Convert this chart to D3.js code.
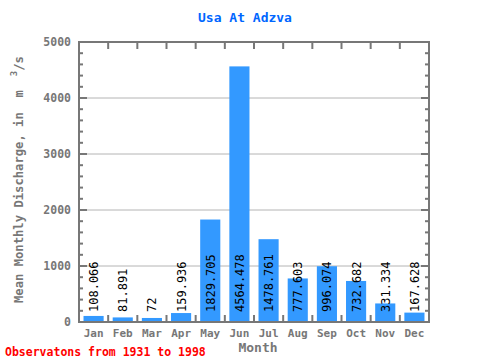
<!DOCTYPE html>
<html><head><meta charset="utf-8">
<script src="https://cdn.jsdelivr.net/npm/d3@7"></script>
<style>body{margin:0;background:#fff}svg{display:block}text{font-family:"DejaVu Sans Mono",monospace}</style>
</head><body>
<script>
const months = ["Jan","Feb","Mar","Apr","May","Jun","Jul","Aug","Sep","Oct","Nov","Dec"];
const values = [108.066,81.891,72,159.936,1829.705,4564.478,1478.761,777.603,996.074,732.682,331.334,167.628];
const valueLabels = ["108.066","81.891","72","159.936","1829.705","4564.478","1478.761","777.603","996.074","732.682","331.334","167.628"];
const yTicks = [0,1000,2000,3000,4000,5000];
const yMinor = d3.range(0,5001,200);
const title = "Usa At Adzva";
const note = "Observatons from 1931 to 1998";

const W=480,H=360, L=79,R=429,T=42,B=322;
const svg=d3.select("body").append("svg").attr("width",W).attr("height",H);
const x=d3.scaleBand().domain(months).range([L,R]).paddingInner(0.31).paddingOuter(0.155);
const xb=d3.scaleBand().domain(months).range([L,R]);
const y=d3.scaleLinear().domain([0,5000]).range([B,T]);
const gray="#777";

// gridlines
svg.append("g").selectAll("line").data(yTicks.filter(d=>d>0&&d<5000)).join("line")
 .attr("x1",L).attr("x2",R).attr("y1",d=>y(d)).attr("y2",d=>y(d)).attr("stroke","#b4b4b4").attr("stroke-width",1);

// bars
svg.append("g").selectAll("rect").data(values).join("rect")
 .attr("x",(d,i)=>x(months[i])).attr("width",x.bandwidth())
 .attr("y",d=>y(d)).attr("height",d=>B-y(d)).attr("fill","#3399ff");

// minor ticks left/right
const tg=svg.append("g").attr("stroke",gray).attr("stroke-width",2);
tg.selectAll("line.l").data(yMinor).join("line").attr("class","l")
 .attr("x1",L).attr("x2",d=>L+(d%1000===0?8:4)).attr("y1",d=>y(d)).attr("y2",d=>y(d));
tg.selectAll("line.r").data(yMinor).join("line").attr("class","r")
 .attr("x1",R).attr("x2",d=>R-(d%1000===0?8:4)).attr("y1",d=>y(d)).attr("y2",d=>y(d));
// x boundary ticks
const bounds=months.slice(1).map(m=>xb(m));
tg.selectAll("line.b").data(bounds).join("line").attr("class","b")
 .attr("x1",d=>d).attr("x2",d=>d).attr("y1",B).attr("y2",B-7);
tg.selectAll("line.t").data(bounds).join("line").attr("class","t")
 .attr("x1",d=>d).attr("x2",d=>d).attr("y1",T).attr("y2",T+7);

// frame
svg.append("rect").attr("x",L).attr("y",T).attr("width",R-L).attr("height",B-T)
 .attr("fill","none").attr("stroke",gray).attr("stroke-width",2);

// value labels
svg.append("g").selectAll("text").data(valueLabels).join("text")
 .attr("transform",(d,i)=>`translate(${x(months[i])+x.bandwidth()/2+4.5},312) rotate(-90)`)
 .attr("font-size",12).attr("fill","#000").text(d=>d);

// y tick labels
svg.append("g").selectAll("text").data(yTicks).join("text")
 .attr("x",71).attr("y",d=>y(d)+4).attr("text-anchor","end")
 .attr("font-size",11.5).attr("font-weight","bold").attr("fill",gray).text(d=>d);

// x labels
svg.append("g").selectAll("text").data(months).join("text")
 .attr("x",d=>xb(d)+xb.bandwidth()/2).attr("y",337).attr("text-anchor","middle")
 .attr("font-size",11).attr("font-weight","bold").attr("fill",gray).text(d=>d);

svg.append("text").attr("x",258).attr("y",352).attr("text-anchor","middle")
 .attr("font-size",13).attr("font-weight","bold").attr("fill",gray).text("Month");

const yl=svg.append("text").attr("transform","translate(23,303) rotate(-90)").attr("text-anchor","start")
 .attr("font-size",12.2).attr("font-weight","bold").attr("fill",gray).attr("xml:space","preserve");
yl.append("tspan").text("Mean Monthly Discharge, in  m");
yl.append("tspan").attr("dx",14).attr("dy",-6).attr("font-size",9).text("3");
yl.append("tspan").attr("dy",6).text("/s");

svg.append("text").attr("x",245).attr("y",22).attr("text-anchor","middle")
 .attr("font-size",13).attr("font-weight","bold").attr("fill","#0066ff").text(title);

svg.append("text").attr("x",5).attr("y",356)
 .attr("font-size",11.5).attr("font-weight","bold").attr("fill","#ff0000").text(note);
</script>
</body></html>
